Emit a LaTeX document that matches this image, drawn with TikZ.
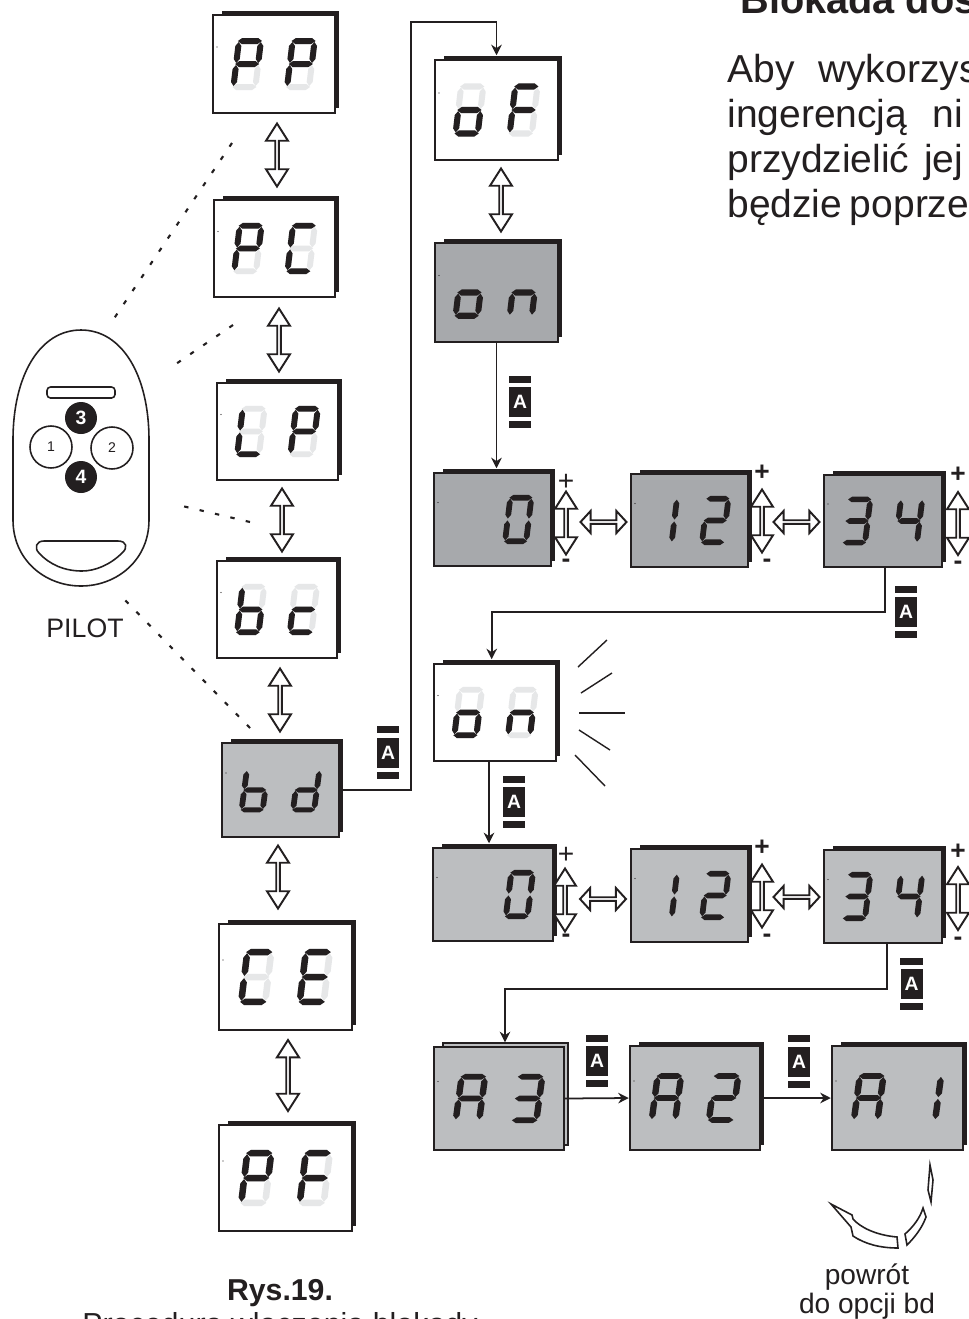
\documentclass[tikz,border=0pt]{standalone}
\usepackage{fontspec}
\setmainfont{Liberation Sans}
\usetikzlibrary{shapes.arrows,arrows.meta}

\definecolor{ink}{HTML}{231F20}
\definecolor{segoff}{HTML}{E6E7E8}
\definecolor{grayA}{HTML}{A7A9AC}
\definecolor{grayB}{HTML}{BCBEC0}

\tikzset{
  panel/.style={draw=ink, line width=1.4pt, inner sep=0pt},
  backplate/.style={fill=ink},
  stackplate/.style={draw=ink, line width=.9pt, fill=grayB},
  seglit/.style={fill=ink},
  flow/.style={draw=ink, line width=1pt, -{Stealth[length=6pt,width=6pt]}},
  hollow/.style={double arrow, draw=ink, line width=1.1pt, fill=white, inner sep=0pt,
    minimum width=.44cm, double arrow head extend=.1cm, double arrow tip angle=65},
  vswitch/.style={hollow, rotate=90, minimum height=1.26cm},
  hswitch/.style={hollow, minimum height=.92cm, double arrow tip angle=95},
  badgebox/.style={fill=ink, text=white, font=\bfseries\fontsize{11}{11}\selectfont,
    inner sep=0pt, minimum width=.44cm, minimum height=.6cm},
  remote/.style={draw=ink, line width=.9pt},
  dotted line/.style={draw=ink, line width=1.2pt, dash pattern=on 2.5pt off 6.5pt},
  sign/.style={inner sep=0pt, text=ink, font=\bfseries\fontsize{15}{15}\selectfont},
  thin sign/.style={sign, font=\fontsize{16}{16}\selectfont},
  caption/.style={inner sep=0pt, anchor=base, text=ink, font=\fontsize{16}{17}\selectfont},
  body/.style={inner sep=0pt, anchor=base west, text=ink, font=\fontsize{22.2}{23}\selectfont},
  ray/.style={draw=ink, line width=.8pt},
  remotekey/.style={circle, inner sep=0pt},
}

% segments of one digit, 28 wide and 52 high
\def\sega{(6,0)--(22,0)--(26,3)--(22,6)--(6,6)--(2,3)--cycle}
\def\segg{(6,23)--(22,23)--(26,26)--(22,29)--(6,29)--(2,26)--cycle}
\def\segd{(6,46)--(22,46)--(26,49)--(22,52)--(6,52)--(2,49)--cycle}
\def\segf{(3,4)--(6,8)--(6,21)--(3,25)--(0,21)--(0,8)--cycle}
\def\segb{(25,4)--(28,8)--(28,21)--(25,25)--(22,21)--(22,8)--cycle}
\def\sege{(3,27)--(6,31)--(6,44)--(3,48)--(0,44)--(0,31)--cycle}
\def\segc{(25,27)--(28,31)--(28,44)--(25,48)--(22,44)--(22,31)--cycle}
\def\segx{(0,0)}
\def\digitfix{1}

\newcommand{\segdigit}[6]{%
  \begin{scope}[shift={(#1,#2)}, xscale=#3, yscale=#4, xslant=.12, shift={(-14,-26)}]
    \foreach \s in {a,b,c,d,e,f,g}{
      \expandafter\let\expandafter\curseg\csname seg\s\endcsname
      \fill[#5] \curseg;
    }
    \foreach \s in {#6}{
      \expandafter\let\expandafter\curseg\csname seg\s\endcsname
      \fill[seglit] \curseg;
    }
  \end{scope}}

% name, left, top, right, bottom, panel colour, unlit segments, left digit, right digit
\newcommand{\display}[9]{%
  \pgfmathsetmacro\dw{#4-#2}
  \pgfmathsetmacro\dh{#5-#3}
  \pgfmathsetmacro\dx{(#2+#4)/2}
  \pgfmathsetmacro\dy{(#3+#5)/2}
  \pgfmathsetmacro\dsx{\dw/122}
  \pgfmathsetmacro\dsy{\dh/98*\digitfix}
  \pgfmathsetmacro\dl{\dx-.22*\dw}
  \pgfmathsetmacro\dr{\dx+.22*\dw}
  \pgfmathsetmacro\dmw{\dw*.02}
  \pgfmathsetmacro\dmh{\dh*.02}
  \path[backplate] (#2+9,#3-4) rectangle (#4+4,#5-5);
  \node[panel, fill=#6, minimum width=\dmw cm, minimum height=\dmh cm] (#1) at (\dx,\dy) {};
  \fill[ink] (#2+4,\dy-17) circle (.6);
  \segdigit{\dl}{\dy}{\dsx}{\dsy}{#7}{#8}
  \segdigit{\dr}{\dy}{\dsx}{\dsy}{#7}{#9}}

\newcommand{\badge}[3]{%
  \node[badgebox] (#1) at (#2,#3) {A};
  \fill[ink] ([yshift=.08cm]#1.north west) rectangle ([yshift=.22cm]#1.north east);
  \fill[ink] ([yshift=-.08cm]#1.south west) rectangle ([yshift=-.22cm]#1.south east);}

\begin{document}
\begin{tikzpicture}[x=.02cm, y=-.02cm, >=stealth]
  \useasboundingbox[fill=white] (0,0) rectangle (968,1319);

  % left column
  \display{pp}{213}{15}{335}{113}{white}{fill=segoff}{a,b,f,g,e}{a,b,f,g,e}
  \display{pc}{214}{200}{335}{297}{white}{fill=segoff}{a,b,f,g,e}{a,f,e,d}
  \display{lp}{217}{383}{338}{480}{white}{fill=segoff}{f,e,d}{a,b,f,g,e}
  \display{bc}{217}{561}{337}{658}{white}{fill=segoff}{f,e,d,c,g}{g,e,d}
  \def\digitfix{.9}
  \display{bd}{222}{743}{339}{837}{grayB}{fill=grayB}{f,e,d,c,g}{b,c,d,e,g}
  \def\digitfix{1}
  \display{ce}{219}{924}{352}{1030}{white}{fill=segoff}{a,f,e,d}{a,f,g,e,d}
  \display{pf}{219}{1125}{352}{1231}{white}{fill=segoff}{a,b,f,g,e}{a,f,g,e}

  % middle column and rows
  \display{of}{435}{60}{558}{160}{white}{fill=segoff}{g,c,d,e}{a,f,g,e}
  \display{onsel}{435}{243}{558}{342}{grayA}{fill=grayA}{g,c,d,e}{g,e,c}
  \display{zeroa}{434}{473}{551}{566}{grayA}{fill=grayA}{x}{a,b,c,d,e,f}
  \display{twelvea}{631}{474}{748}{567}{grayA}{fill=grayA}{b,c}{a,b,g,e,d}
  \display{thirtya}{824}{475}{942}{567}{grayA}{fill=grayA}{a,b,g,c,d}{f,g,b,c}
  \display{blink}{434}{664}{556}{761}{white}{fill=segoff}{g,c,d,e}{g,e,c}
  \display{zerob}{433}{848}{553}{941}{grayB}{fill=grayB}{x}{a,b,c,d,e,f}
  \display{twelveb}{631}{849}{748}{942}{grayB}{fill=grayB}{b,c}{a,b,g,e,d}
  \display{thirtyb}{824}{850}{942}{943}{grayB}{fill=grayB}{a,b,g,c,d}{f,g,b,c}
  \def\digitfix{.9}
  \begin{scope}[backplate/.style={stackplate}]
    \display{athree}{434}{1047}{564}{1150}{grayB}{fill=grayB}{a,b,c,e,f,g}{a,b,g,c,d}
  \end{scope}
  \display{atwo}{630}{1046}{760}{1150}{grayB}{fill=grayB}{a,b,c,e,f,g}{a,b,g,e,d}
  \display{aone}{832}{1046}{963}{1150}{grayB}{fill=grayB}{a,b,c,e,f,g}{b,c}

  % hollow arrows
  \foreach \n/\x/\y in {swa/277/155, swb/279/340, swc/282/520, swd/280/700, swe/278/877,
      swg/501/200, swh/566/523, swi/762/521, swj/958/523.5,
      swk/565/900, swl/762/896, swm/958/898.5}
    \node[vswitch] (\n) at (\x,\y) {};
  \node[vswitch, minimum height=1.42cm] (swf) at (288,1075.5) {};
  \foreach \n/\x/\y in {swn/603.5/522, swo/796.5/522, swp/603/899, swq/796.5/897}
    \node[hswitch] (\n) at (\x,\y) {};

  \foreach \n/\x/\y in {pb/762/473, pc/958/475, pe/762/848, pf/958/852}
    \node[sign] (plus\n) at (\x,\y) {+};
  \foreach \n/\x/\y in {pa/566/482, pd/566/855}
    \node[thin sign] (plus\n) at (\x,\y) {+};
  \foreach \n/\x/\y in {ma/566/563, mb/767/563, mc/958/565, md/566/938, me/767/938, mf/958/941}
    \node[sign] (minus\n) at (\x,\y) {-};

  % connectors
  \coordinate (bdup) at (411,22);
  \coordinate (reta) at (885,612);
  \coordinate (retb) at (887,989);
  \draw[flow, shorten >=2pt] (bd.east) -| (bdup) -| (of.north);
  \draw[flow, shorten >=2pt] (onsel.south) -- (onsel.south |- zeroa.north);
  \draw[flow, shorten >=2pt] (reta |- thirtya.south) -- (reta) -| ([xshift=-.066cm]blink.north);
  \draw[flow, shorten >=2pt] ([xshift=-.12cm]blink.south) -- ([xshift=-.12cm]blink.south |- zerob.north);
  \draw[flow, shorten >=2pt] (retb |- thirtyb.south) -- (retb) -| ([xshift=.12cm]athree.north);
  \draw[flow] (athree.east) -- (atwo.west);
  \draw[flow] (atwo.east) -- (aone.west);

  \badge{tagbd}{388}{752.5}
  \badge{tagon}{520}{402}
  \badge{tagrowa}{906}{612}
  \badge{tagblink}{514}{802}
  \badge{tagrowb}{911.5}{984}
  \badge{tagathree}{597}{1061}
  \badge{tagatwo}{799}{1061.5}

  % rays of the blinking display
  \draw[ray] (578,667) -- (607,640);
  \draw[ray] (581,693) -- (612,673);
  \draw[ray] (579,713) -- (625,713);
  \draw[ray] (579,730) -- (610,750);
  \draw[ray] (575,755) -- (605,786);

  % remote
  \draw[remote] (81,330) .. controls (40,330) and (13,375) .. (13,440) -- (13,520)
    .. controls (13,560) and (45,586) .. (81,586)
    .. controls (117,586) and (149,560) .. (149,520) -- (149,440)
    .. controls (149,375) and (122,330) .. (81,330) -- cycle;
  \draw[remote, rounded corners=2pt] (47,387) rectangle (115,398);
  \draw[remote] (44,541) -- (118,541) .. controls (127,541) and (128,548) .. (122,553)
    .. controls (110,565) and (95,571) .. (82,571) .. controls (65,571) and (50,565) .. (39,553)
    .. controls (34,548) and (36,541) .. (44,541) -- cycle;
  \node[remotekey, fill=ink, minimum size=.64cm, text=white, font=\bfseries\fontsize{11}{11}\selectfont] (btnc) at (81,418) {3};
  \node[remotekey, fill=ink, minimum size=.64cm, text=white, font=\bfseries\fontsize{11}{11}\selectfont] (btnd) at (81,477) {4};
  \node[remotekey, remote, fill=white, minimum size=.84cm, text=ink, font=\fontsize{8}{8}\selectfont] (btna) at (51,447) {1};
  \node[remotekey, remote, fill=white, minimum size=.84cm, text=ink, font=\fontsize{8}{8}\selectfont] (btnb) at (112,448) {2};
  \node[caption, font=\fontsize{15.2}{17}\selectfont] (pilot) at (85,637) {PILOT};

  \draw[dotted line] (232,143) -- (113,320);
  \draw[dotted line] (233,325) -- (170,368);
  \draw[dotted line] (250,522) -- (178,505);
  \draw[dotted line] (250,728) -- (120,595);

  % return arrow
  \draw[remote, fill=white] (930,1165) -- (933,1180) -- (931,1202) -- (928,1190) -- cycle;
  \draw[remote, fill=white] (923,1208) -- (926,1217) .. controls (922,1228) and (915,1237) .. (907,1245)
    -- (905,1234) .. controls (913,1227) and (920,1218) .. (923,1208) -- cycle;
  \draw[remote, fill=white] (897,1237) -- (898,1248) .. controls (880,1248) and (865,1244) .. (853,1236)
    -- (851,1227) -- (831,1204) -- (852,1215) -- (853,1219) .. controls (860,1227) and (875,1235) .. (897,1237) -- cycle;

  % texts
  \node[caption] (retlabela) at (867,1284) {powrót};
  \node[caption] (retlabelb) at (867,1313) {do opcji bd};
  \node[caption, font=\bfseries\fontsize{17.2}{18}\selectfont] (rys) at (280,1300) {Rys.19.};
  \node[caption, font=\fontsize{17.3}{18}\selectfont] (proc) at (280,1334) {Procedura włączenia blokady};
  \node[body, font=\bfseries\fontsize{22.6}{23}\selectfont] (title) at (740,13) {Blokada dos};
  \node[body] (linea) at (727,82) {Aby\hspace{.33em} wykorzys};
  \node[body] (lineb) at (727,127) {ingerencją\hspace{.38em} ni};
  \node[body] (linec) at (727,172) {przydzielić\hspace{.1em} jej};
  \node[body] (lined) at (727,217) {będzie\hspace{-.08em} poprze};
\end{tikzpicture}
\end{document}
